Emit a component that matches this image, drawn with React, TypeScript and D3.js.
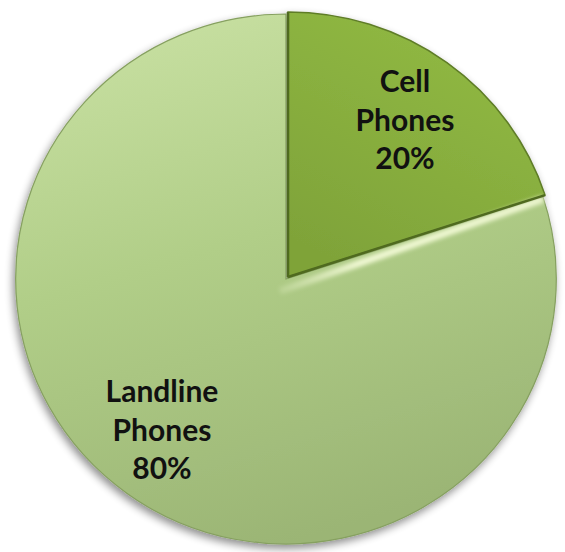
import React from "react";
import * as d3 from "d3";

const categories = ["Cell Phones", "Landline Phones"];
const values = [20, 80];
const labelLines = [["Cell", "Phones", "20%"], ["Landline", "Phones", "80%"]];

const W = 565;
const H = 552;

export default function App() {
  const cx = 287;
  const cy = 276;
  const r = 265;
  const sx = 1.02;
  const pie = d3.pie<number>().sort(null).startAngle(0).endAngle(2 * Math.PI);
  const arcs = pie(values);
  const arc = d3.arc<d3.PieArcDatum<number>>().innerRadius(0).outerRadius(r);
  const fills = ["url(#cellGrad)", "url(#landGrad)"];
  const offsets = [
    [1, 1],
    [-1, 3],
  ];
  const labelPos = [
    [118, -184],
    [-125, 126],
  ];
  const a72 = arcs[0].endAngle;
  const ex = Math.sin(a72) * r;
  const ey = -Math.cos(a72) * r;
  return (
    <svg width={W} height={H} style={{ position: "absolute", left: 0, top: 0, background: "#fff" }}>
      <defs>
        <linearGradient id="landGrad" x1="0.2" y1="0" x2="0.5" y2="1">
          <stop offset="0" stopColor="#c8e0a2" />
          <stop offset="0.45" stopColor="#b1ce88" />
          <stop offset="1" stopColor="#9bb575" />
        </linearGradient>
        <linearGradient id="cellGrad" x1="0.8" y1="0" x2="0.3" y2="1">
          <stop offset="0" stopColor="#92bb44" />
          <stop offset="1" stopColor="#7fa339" />
        </linearGradient>
        <linearGradient id="bevel" x1="0" y1="0" x2="1" y2="0">
          <stop offset="0" stopColor="#f4fbd8" stopOpacity="0.2" />
          <stop offset="0.3" stopColor="#f4fbd8" stopOpacity="0.95" />
          <stop offset="1" stopColor="#f4fbd8" stopOpacity="0.9" />
        </linearGradient>
        <filter id="shadow" x="-10%" y="-10%" width="120%" height="120%">
          <feGaussianBlur in="SourceAlpha" stdDeviation="4" />
          <feOffset dx="-2" dy="4" result="b" />
          <feComponentTransfer>
            <feFuncA type="linear" slope="0.45" />
          </feComponentTransfer>
          <feMerge>
            <feMergeNode />
            <feMergeNode in="SourceGraphic" />
          </feMerge>
        </filter>
        <filter id="soft" x="-20%" y="-20%" width="140%" height="140%">
          <feGaussianBlur stdDeviation="2" />
        </filter>
      </defs>
      <g transform={`translate(${cx},${cy}) scale(${sx},1)`}>
        <g filter="url(#shadow)">
          {arcs
            .map((d, i) => ({ d, i }))
            .reverse()
            .map(({ d, i }) => (
              <g key={categories[i]} transform={`translate(${offsets[i][0]},${offsets[i][1]})`}>
                <path d={arc(d) || ""} fill={fills[i]} stroke={i === 0 ? "#5f7d28" : "#86a060"} strokeWidth={i === 0 ? 1.5 : 1.2} />
              </g>
            ))}
        </g>
        <g transform={`translate(${offsets[1][0]},${offsets[1][1]})`}>
          <line x1={-6} y1={12} x2={ex} y2={ey + 2} stroke="url(#bevel)" strokeWidth={7} filter="url(#soft)" />
          <line x1={-4} y1={-r + 6} x2={-4} y2={10} stroke="#e4f0c8" strokeWidth={6} opacity={0.5} filter="url(#soft)" />
        </g>
        <g transform={`translate(${offsets[0][0]},${offsets[0][1]})`}>
          <line x1={0} y1={-r} x2={0} y2={0} stroke="#4f6a1f" strokeWidth={2.5} />
          <line x1={0} y1={0} x2={ex} y2={ey} stroke="#4f6a1f" strokeWidth={2.5} />
        </g>
      </g>
      <g transform={`translate(${cx},${cy})`}>
        {arcs.map((d, i) => (
          <text
            key={categories[i]}
            x={labelPos[i][0]}
            y={labelPos[i][1]}
            textAnchor="middle"
            fontFamily="Lato, 'Open Sans', sans-serif"
            fontWeight="bold"
            fontSize={30}
            fill="#111"
          >
            {labelLines[i].map((t, j) => (
              <tspan key={j} x={labelPos[i][0]} dy={j === 0 ? 0 : 38.5}>
                {t}
              </tspan>
            ))}
          </text>
        ))}
      </g>
    </svg>
  );
}
